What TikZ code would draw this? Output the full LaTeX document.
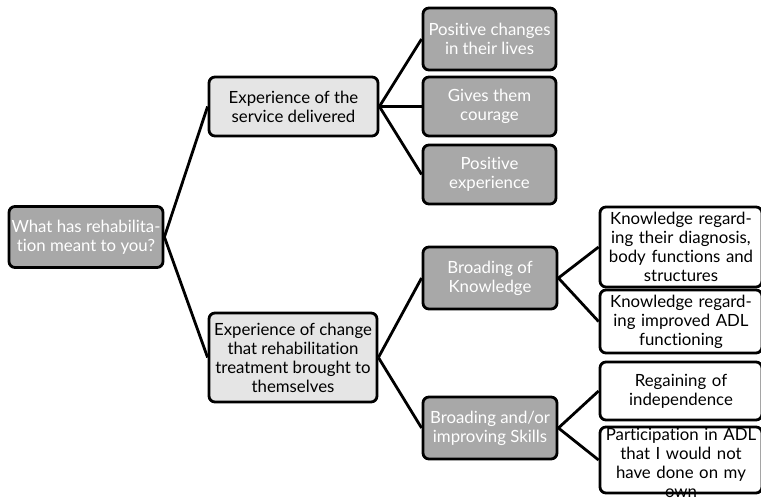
\documentclass[tikz,border=0pt]{standalone}
\usepackage{fontspec}
\setmainfont{Lato}[Ligatures=NoCommon]
\usetikzlibrary{positioning,calc}

\begin{document}
\begin{tikzpicture}[x=1pt,y=1pt,
  box/.style={draw=black,line width=2.8pt,rounded corners=6pt,align=center,
    inner sep=2pt,font=\fontsize{16.8}{19}\selectfont},
  darkbox/.style={box,fill=black!34,text=white},
  lightbox/.style={box,fill=black!10,text=black},
  whitebox/.style={box,fill=white,text=black,text width=158pt,
    minimum width=162pt},
  link/.style={line width=2.8pt}]
\useasboundingbox (0,0) rectangle (761,503);
\node[darkbox,minimum width=154pt,minimum height=61pt] (root) at (86,266)
  {What has rehabilita-\\tion meant to you?};
\node[lightbox,minimum width=169pt,minimum height=59pt] (service) at (293.5,396.5)
  {Experience of the\\service delivered};
\node[lightbox,minimum width=168pt,minimum height=89pt] (change) at (293,145.5)
  {Experience of change\\that rehabilitation\\treatment brought to\\themselves};
\node[darkbox,minimum width=133pt,minimum height=62pt] (lives) at (489.5,464)
  {Positive changes\\in their lives};
\node[darkbox,minimum width=133pt,minimum height=59pt] (courage) at (489.5,396.5)
  {Gives them\\courage};
\node[darkbox,minimum width=133pt,minimum height=59pt] (posexp) at (489.5,328.5)
  {Positive\\experience};
\node[darkbox,minimum width=134pt,minimum height=62pt] (know) at (490,225)
  {Broading of\\Knowledge};
\node[darkbox,minimum width=134pt,minimum height=62pt] (skills) at (490,75)
  {Broading and/or\\improving Skills};
\node[whitebox,minimum height=80pt] (diag) at (681,256)
  {Knowledge regard-\\ing their diagnosis,\\body functions and\\structures};
\node[whitebox,minimum height=63pt] (adl) at (681,181.5)
  {Knowledge regard-\\ing improved ADL\\functioning};
\node[whitebox,minimum height=58pt] (indep) at (681,112)
  {Regaining of\\independence};
\node[whitebox,text height=12pt,text depth=50pt] (own) at (681,43)
  {Participation in ADL\\that I would not\\have done on my\\own};
% connectors
\draw[link] (root.east) -- (service.west);
\draw[link] (root.east) -- (change.west);
\foreach \c in {lives,courage,posexp} \draw[link] (service.east) -- (\c.west);
\foreach \c in {know,skills} \draw[link] (change.east) -- (\c.west);
\foreach \c in {diag,adl} \draw[link] (know.east) -- (\c.west);
\foreach \c in {indep,own} \draw[link] (skills.east) -- (\c.west);
\end{tikzpicture}
\end{document}
